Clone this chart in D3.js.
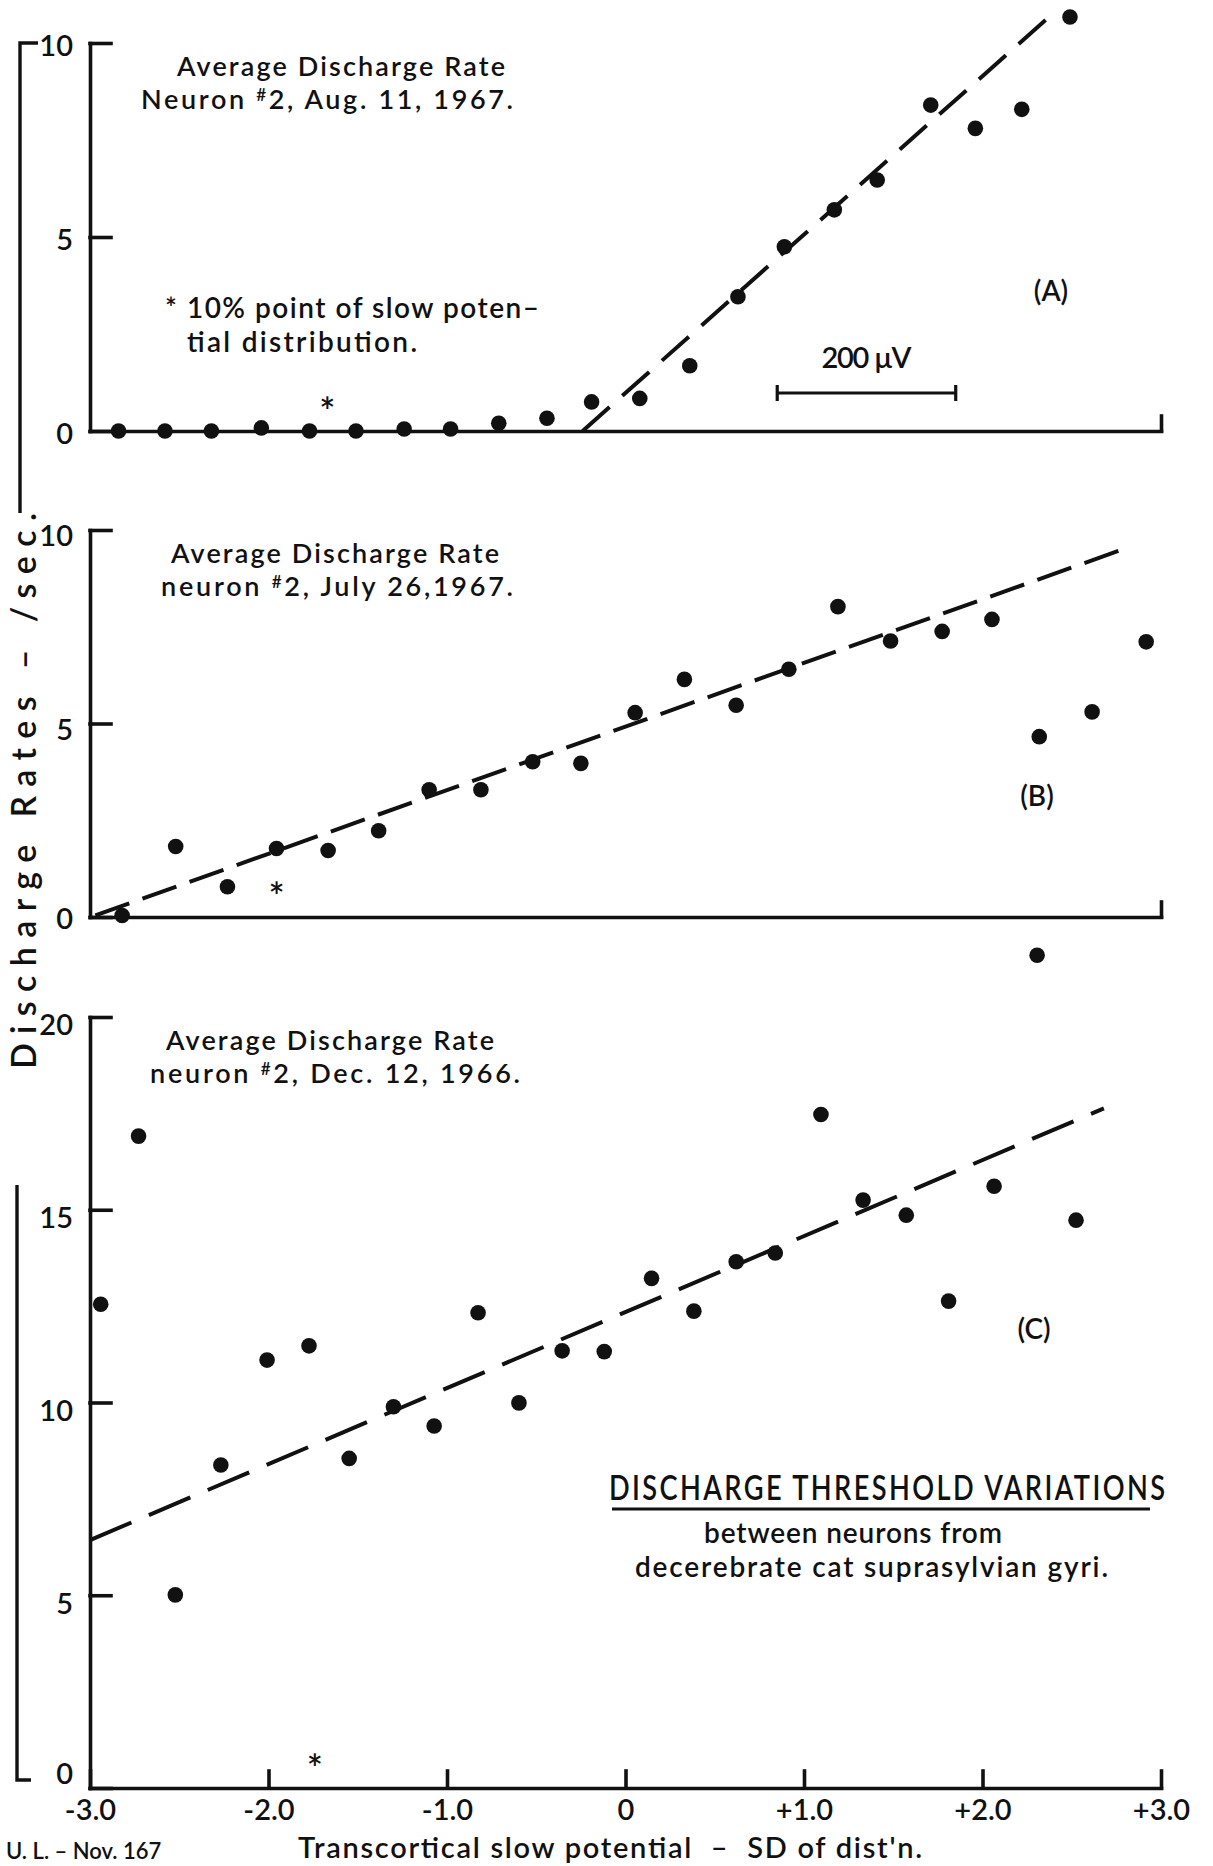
<!DOCTYPE html>
<html>
<head>
<meta charset="utf-8">
<script src="https://cdn.jsdelivr.net/npm/d3@7"></script>
<style>
  html, body { margin: 0; padding: 0; background: #ffffff; }
  svg { display: block; }
  text { font-family: Lato, "Noto Sans", sans-serif; font-weight: 600; fill: #111; }
</style>
</head>
<body>
<svg id="chart" width="1213" height="1866"></svg>
<script>
// ---- Panel A: neuron #2, Aug. 11, 1967 ----
const sdA   = [-2.84, -2.58, -2.32, -2.04, -1.77, -1.51, -1.24, -0.98, -0.71, -0.44, -0.19,
                0.08, 0.36, 0.63, 0.89, 1.17, 1.41, 1.71, 1.96, 2.22, 2.49];
const rateA = [0, 0, 0, 0.08, 0, 0, 0.05, 0.05, 0.2, 0.33, 0.75,
               0.84, 1.68, 3.46, 4.75, 5.70, 6.47, 8.40, 7.80, 8.29, 10.67];
const fitA  = [[-0.24, 0], [2.38, 10.7]];
const starA = [-1.67, 0.72];

// ---- Panel B: neuron #2, July 26, 1967 ----
const sdB   = [-2.82, -2.52, -2.23, -1.955, -1.666, -1.383, -1.10, -0.81, -0.52, -0.25,
                0.054, 0.33, 0.62, 0.915, 1.19, 1.485, 1.774, 2.053, 2.318, 2.614, 2.917];
const rateB = [0.04, 1.82, 0.78, 1.77, 1.72, 2.23, 3.29, 3.29, 4.01, 3.97,
               5.28, 6.14, 5.47, 6.40, 8.02, 7.13, 7.38, 7.69, 4.66, 5.30, 7.11];
const fitB  = [[-2.97, 0.04], [2.78, 9.49]];
const starB = [-1.955, 0.75];

// ---- Panel C: neuron #2, Dec. 12, 1966 ----
const sdC   = [-2.94, -2.728, -2.522, -2.267, -2.008, -1.773, -1.548, -1.30, -1.072, -0.826,
               -0.597, -0.355, -0.119, 0.146, 0.383, 0.62, 0.839, 1.095, 1.331, 1.573,
                1.81, 2.065, 2.306, 2.524];
const rateC = [12.55, 16.91, 5.01, 8.38, 11.10, 11.47, 8.55, 9.89, 9.39, 12.33,
               9.99, 11.34, 11.32, 13.22, 12.37, 13.65, 13.88, 17.47, 15.25, 14.86,
               12.63, 15.61, 21.6, 14.73];
const fitC  = [[-3.0, 6.43], [2.68, 17.63]];
const starC = [-1.74, 0.73];

// ---- axes and labels ----
const xTickValues = [-3, -2, -1, 0, 1, 2, 3];
const xTickLabels = ["-3.0", "-2.0", "-1.0", "0", "+1.0", "+2.0", "+3.0"];
const yTicksTen    = [0, 5, 10];
const yTicksTwenty = [0, 5, 10, 15, 20];
const titleA = ["Average Discharge Rate", "Neuron ", "#", "2, Aug. 11, 1967."];
const titleB = ["Average Discharge Rate", "neuron ", "#", "2, July 26,1967."];
const titleC = ["Average Discharge Rate", "neuron ", "#", "2, Dec. 12, 1966."];
const footnote = ["* 10% point of slow poten\u2013", "tial distribution."];
const scaleBarSD = [0.85, 1.85];   // one SD of the slow potential
const scaleBarLabel = "200 \u00b5V";
const yAxisTitle = "Discharge Rates \u2013 /sec.";
const xAxisTitle = "Transcortical slow potential  \u2013  SD of dist'n.";
const captionHead = "DISCHARGE THRESHOLD VARIATIONS";
const captionBody = ["between neurons from", "decerebrate cat suprasylvian gyri."];
const initials = "U. L. \u2013 Nov. 167";

const INK = "#111";
const svg = d3.select("#chart");

const x = d3.scaleLinear().domain([-3, 3]).range([90, 1161]);

function styleAxis(g, fontSize) {
  g.attr("font-family", null).attr("font-size", null);
  g.selectAll("path, line").attr("stroke", INK).attr("stroke-width", 3.6)
    .attr("stroke-linecap", "square");
  g.selectAll("text").attr("font-size", fontSize).attr("fill", INK);
}

function drawPanel(cfg) {
  const y = d3.scaleLinear().domain(cfg.domain).range(cfg.range);
  const g = svg.append("g");

  // y axis with inward ticks
  const ya = g.append("g").attr("transform", `translate(${x(-3)},0)`)
    .call(d3.axisLeft(y).tickValues(cfg.yTicks).tickSize(-21).tickSizeOuter(0)
      .tickPadding(17).tickFormat(d3.format("d")));
  styleAxis(ya, 29);
  ya.selectAll("text").attr("dy", d => (d === 0 ? cfg.zeroDy : cfg.labelDy));

  // x axis
  const xa = g.append("g").attr("transform", `translate(0,${y(0)})`);
  if (cfg.fullX) {
    xa.call(d3.axisBottom(x).tickValues(xTickValues).tickSize(-17).tickSizeOuter(0)
      .tickPadding(11).tickFormat((d, i) => xTickLabels[i]));
  } else {
    xa.call(d3.axisBottom(x).tickValues([3]).tickSize(-15).tickSizeOuter(0)
      .tickFormat(() => ""));
  }
  styleAxis(xa, 29);

  // hand-fitted regression line
  g.append("path")
    .attr("d", d3.line().x(d => x(d[0])).y(d => y(d[1]))(cfg.fit))
    .attr("fill", "none").attr("stroke", INK).attr("stroke-width", 4)
    .attr("stroke-dasharray", cfg.dash);

  // data points
  g.selectAll("circle.pt").data(cfg.sd.map((s, i) => [s, cfg.rate[i]]))
    .join("circle").attr("class", "pt")
    .attr("cx", d => x(d[0])).attr("cy", d => y(d[1])).attr("r", 7.8)
    .attr("fill", INK);

  // 10% point marker
  g.append("text").attr("x", x(cfg.star[0])).attr("y", y(cfg.star[1]))
    .attr("dy", "0.58em").attr("text-anchor", "middle").attr("font-size", 38)
    .attr("font-weight", 700).text("*");

  // two-line title block
  const t = cfg.title;
  const tt = g.append("text").attr("font-size", 27);
  tt.append("tspan").attr("x", cfg.titlePos[0]).attr("y", cfg.titlePos[1])
    .attr("textLength", cfg.titleLen[0]).text(t[0]);
  const l2 = tt.append("tspan").attr("x", cfg.titlePos[2]).attr("y", cfg.titlePos[1] + 33)
    .attr("textLength", cfg.titleLen[1]);
  l2.append("tspan").text(t[1]);
  l2.append("tspan").attr("font-size", 17).attr("dy", -8).text(t[2]);
  l2.append("tspan").attr("dy", 8).text(t[3]);

  // panel letter
  g.append("text").attr("x", cfg.letterPos[0]).attr("y", cfg.letterPos[1])
    .attr("text-anchor", "middle").attr("font-size", 28).text(cfg.letter);

  return y;
}

const yA = drawPanel({
  domain: [0, 10], range: [431, 43], yTicks: yTicksTen, fullX: false,
  labelDy: "0.42em", zeroDy: "0.42em",
  sd: sdA, rate: rateA, fit: fitA, dash: "36,17", star: starA,
  title: titleA, titlePos: [177, 76, 141], titleLen: [328, 372],
  letter: "(A)", letterPos: [1051, 301]
});
const yB = drawPanel({
  domain: [0, 10], range: [917, 530], yTicks: yTicksTen, fullX: false,
  labelDy: "0.55em", zeroDy: "0.38em",
  sd: sdB, rate: rateB, fit: fitB, dash: "36,14", star: starB,
  title: titleB, titlePos: [171, 563, 161], titleLen: [328, 352],
  letter: "(B)", letterPos: [1037, 806]
});
const yC = drawPanel({
  domain: [0, 20], range: [1788, 1017], yTicks: yTicksTwenty, fullX: true,
  labelDy: "0.62em", zeroDy: "-0.14em",
  sd: sdC, rate: rateC, fit: fitC, dash: "45,19", star: starC,
  title: titleC, titlePos: [166, 1050, 150], titleLen: [328, 370],
  letter: "(C)", letterPos: [1034, 1339]
});

// footnote in panel A
const fn = svg.append("text").attr("font-size", 28);
fn.append("tspan").attr("x", 165).attr("y", 318).attr("textLength", 374).text(footnote[0]);
fn.append("tspan").attr("x", 187).attr("y", 352).attr("textLength", 230).text(footnote[1]);

// 200 µV scale bar in panel A
const barY = 393;
const bar = svg.append("g").attr("stroke", INK).attr("stroke-width", 3.2);
bar.append("line").attr("x1", x(scaleBarSD[0])).attr("x2", x(scaleBarSD[1]))
  .attr("y1", barY).attr("y2", barY);
scaleBarSD.forEach(s => bar.append("line").attr("x1", x(s)).attr("x2", x(s))
  .attr("y1", barY - 8).attr("y2", barY + 8));
svg.append("text").attr("x", x(d3.mean(scaleBarSD))).attr("y", 368)
  .attr("text-anchor", "middle").attr("font-size", 29).attr("textLength", 90)
  .text(scaleBarLabel);

// shared y-axis bracket
const bracket = svg.append("g").attr("fill", "none").attr("stroke", INK)
  .attr("stroke-width", 3.4);
bracket.append("path").attr("d", "M38,43 H20 V513");
bracket.append("path").attr("d", "M17,1185 V1780 H31");

// shared y-axis title
svg.append("text")
  .attr("transform", "translate(36,791) rotate(-90)")
  .attr("text-anchor", "middle").attr("font-size", 34)
  .attr("textLength", 556).attr("lengthAdjust", "spacing")
  .text(yAxisTitle);

// x-axis title
svg.append("text").attr("x", 298).attr("y", 1858).attr("font-size", 29)
  .attr("textLength", 624).style("white-space", "pre").text(xAxisTitle);

// caption (heading set in narrow capitals)
svg.append("text").attr("transform", "translate(609,1500) scale(0.8,1)")
  .attr("font-size", 34).attr("textLength", 556 / 0.8).text(captionHead);
svg.append("line").attr("x1", 612).attr("x2", 1150).attr("y1", 1509).attr("y2", 1509)
  .attr("stroke", INK).attr("stroke-width", 3);
const cap = svg.append("text").attr("font-size", 28);
cap.append("tspan").attr("x", 704).attr("y", 1543).attr("textLength", 298).text(captionBody[0]);
cap.append("tspan").attr("x", 635).attr("y", 1577).attr("textLength", 473).text(captionBody[1]);

// initials along the bottom edge
svg.append("text").attr("x", 6).attr("y", 1859).attr("font-size", 22).text(initials);
</script>
</body>
</html>
